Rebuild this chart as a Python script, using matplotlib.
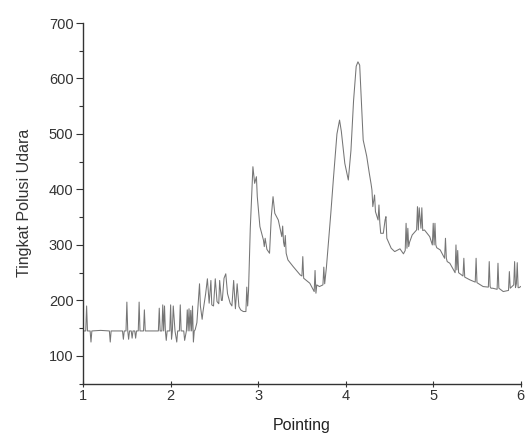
import matplotlib
matplotlib.use("Agg")
import matplotlib.pyplot as plt
from matplotlib.ticker import MultipleLocator

plt.rcParams["font.family"] = ["Liberation Sans", "DejaVu Sans"]

# pointing vs air pollution level (rows line up 1:1)
pointing = [
    1.00, 1.03, 1.04, 1.05, 1.06, 1.08, 1.09, 1.10, 1.20, 1.30, 1.31, 1.32, 1.45, 1.46, 1.47,
    1.49, 1.50, 1.51, 1.52, 1.53, 1.55, 1.56, 1.57, 1.59, 1.60, 1.61, 1.63, 1.64, 1.65,
    1.69, 1.70, 1.71, 1.80, 1.86, 1.87, 1.88, 1.90, 1.91, 1.92, 1.93, 1.94, 1.95, 1.96,
    1.99, 2.00, 2.01, 2.02, 2.03, 2.05, 2.07, 2.08, 2.10, 2.11, 2.12, 2.15, 2.16, 2.18,
    2.19, 2.20, 2.21, 2.22, 2.23, 2.24, 2.25, 2.26, 2.27, 2.28, 2.30, 2.33, 2.34, 2.36,
    2.37, 2.40, 2.42, 2.44, 2.46, 2.47, 2.49, 2.51, 2.53, 2.55, 2.56, 2.58, 2.59, 2.61,
    2.63, 2.65, 2.68, 2.70, 2.72, 2.74, 2.76, 2.78, 2.80, 2.83, 2.86, 2.87, 2.88, 2.89,
    2.91, 2.94, 2.96, 2.98, 2.99, 3.02, 3.06, 3.07, 3.08, 3.10, 3.13, 3.15, 3.17, 3.19,
    3.23, 3.27, 3.28, 3.29, 3.30, 3.31, 3.32, 3.34, 3.40, 3.48, 3.50, 3.51, 3.52, 3.59,
    3.64, 3.65, 3.66, 3.67, 3.70, 3.74, 3.75, 3.76, 3.78, 3.83, 3.86, 3.90, 3.93, 3.95,
    3.99, 4.03, 4.06, 4.09, 4.12, 4.14, 4.16, 4.20, 4.24, 4.27, 4.29, 4.30, 4.31, 4.33,
    4.34, 4.37, 4.38, 4.39, 4.40, 4.43, 4.45, 4.46, 4.47, 4.52, 4.56, 4.62, 4.66, 4.68,
    4.69, 4.70, 4.71, 4.72, 4.73, 4.76, 4.81, 4.82, 4.83, 4.84, 4.86, 4.87, 4.88, 4.90,
    4.96, 4.99, 5.00, 5.01, 5.02, 5.03, 5.04, 5.08, 5.13, 5.14, 5.15, 5.16, 5.19, 5.25,
    5.26, 5.27, 5.28, 5.29, 5.34, 5.35, 5.36, 5.42, 5.48, 5.49, 5.50, 5.57, 5.63, 5.64,
    5.65, 5.66, 5.68, 5.73, 5.74, 5.75, 5.80, 5.86, 5.87, 5.88, 5.92, 5.93, 5.94, 5.95,
    5.96, 5.97, 5.98, 6.00,
]
polusi = [
    145, 145, 190, 145, 145, 145, 125, 145, 146, 145, 125, 145, 145, 130, 145,
    145, 197, 145, 130, 145, 145, 132, 145, 145, 132, 145, 145, 197, 145,
    145, 183, 145, 145, 145, 186, 145, 145, 192, 145, 190, 145, 128, 145,
    145, 192, 130, 145, 190, 145, 125, 145, 145, 192, 145, 145, 128, 145,
    183, 145, 185, 145, 182, 145, 190, 125, 145, 147, 160, 230, 190, 166,
    180, 212, 239, 195, 236, 192, 190, 239, 198, 194, 236, 200, 200, 240,
    248, 212, 195, 190, 236, 185, 230, 189, 183, 180, 180, 224, 190, 218,
    330, 441, 411, 423, 387, 333, 309, 297, 312, 292, 285, 351, 387, 357,
    345, 315, 334, 305, 297, 317, 285, 273, 261, 246, 244, 279, 240, 231,
    216, 254, 213, 228, 225, 228, 260, 230, 260, 357, 420, 500, 525, 505,
    447, 417, 470, 560, 622, 630, 624, 489, 460, 429, 410, 399, 369, 390,
    360, 345, 372, 340, 321, 321, 345, 351, 312, 294, 288, 293, 284, 290,
    339, 294, 330, 297, 305, 318, 327, 369, 327, 367, 330, 367, 326, 327,
    315, 300, 339, 300, 339, 300, 295, 291, 276, 312, 276, 270, 267, 250,
    300, 255, 290, 250, 244, 276, 242, 237, 233, 276, 232, 225, 224, 270,
    225, 222, 222, 220, 267, 222, 216, 218, 252, 222, 228, 270, 223, 230,
    268, 223, 223, 225,
]

fig = plt.figure(figsize=(5.26, 4.34), dpi=100)
ax = fig.add_axes([0.158, 0.116, 0.832, 0.831])
ax.plot(pointing, polusi, color="#757575", linewidth=0.75)

ax.set_xlim(1, 6)
ax.set_ylim(50, 700)
ax.xaxis.set_major_locator(MultipleLocator(1))
ax.yaxis.set_minor_locator(MultipleLocator(50))
ax.set_yticks(range(100, 701, 100))

for s in ["top", "right"]:
    ax.spines[s].set_visible(False)
for s in ["left", "bottom"]:
    ax.spines[s].set_color("#333333")
    ax.spines[s].set_linewidth(1.0)

ax.tick_params(axis="y", which="major", direction="out", length=5, width=0.8,
               labelsize=10.5, pad=2, colors="#333333")
ax.tick_params(axis="y", which="minor", direction="out", length=3, width=0.8,
               colors="#333333")
ax.tick_params(axis="x", which="major", direction="inout", length=5, width=0.8,
               labelsize=10.5, pad=1, colors="#333333")

ax.set_ylabel("Tingkat Polusi Udara", fontsize=11.5, color="#333333", labelpad=12)
ax.set_xlabel("Pointing", fontsize=11.5, color="#222222", labelpad=11)

fig.savefig("out.png", dpi=100)
